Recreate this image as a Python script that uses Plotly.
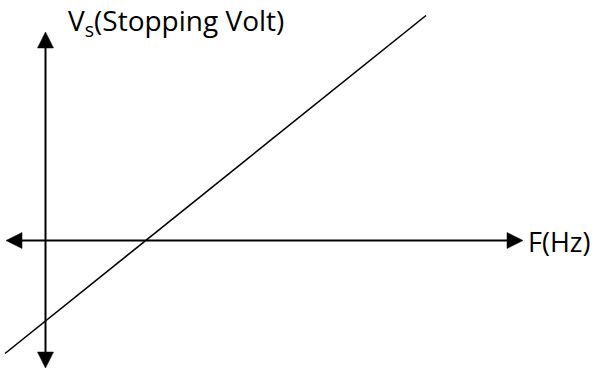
import plotly.graph_objects as go

# Conceptual data (arbitrary units): stopping voltage vs frequency
freq = [-4.05, 38.05]          # F (Hz), line extent
vs = [-11.3, 22.5]             # Vs (Stopping Volt)

x_axis_extent = [-3.95, 47.75]   # horizontal axis arrow tips
y_axis_extent = [-12.75, 20.85]  # vertical axis arrow tips

x_label = "F(Hz)"
y_label = "V<sub>s</sub>(Stopping Volt)"

HEAD_L = 1.6
HEAD_W = 0.8

fig = go.Figure()

# axes lines
fig.add_trace(go.Scatter(x=[x_axis_extent[0] + HEAD_L, x_axis_extent[1] - HEAD_L], y=[0, 0],
                         mode="lines", line=dict(color="black", width=2), hoverinfo="skip"))
fig.add_trace(go.Scatter(x=[0, 0], y=[y_axis_extent[0] + HEAD_L, y_axis_extent[1] - HEAD_L],
                         mode="lines", line=dict(color="black", width=2), hoverinfo="skip"))

def head(tipx, tipy, dx, dy):
    bx, by = tipx - dx * HEAD_L, tipy - dy * HEAD_L
    px, py = -dy * HEAD_W, dx * HEAD_W
    fig.add_trace(go.Scatter(x=[tipx, bx + px, bx - px, tipx], y=[tipy, by + py, by - py, tipy],
                             mode="lines", fill="toself", fillcolor="black",
                             line=dict(color="black", width=0.5), hoverinfo="skip"))

head(x_axis_extent[1], 0, 1, 0)
head(x_axis_extent[0], 0, -1, 0)
head(0, y_axis_extent[1], 0, 1)
head(0, y_axis_extent[0], 0, -1)

# the characteristic line
fig.add_trace(go.Scatter(x=freq, y=vs, mode="lines",
                         line=dict(color="black", width=1.6), hoverinfo="skip"))

fig.add_annotation(x=48.0, y=-0.1, text=x_label, showarrow=False, xanchor="left", yanchor="middle",
                   font=dict(family="Open Sans", size=27, color="black"))
fig.add_annotation(x=2.0, y=21.85, text=y_label, showarrow=False, xanchor="left", yanchor="middle",
                   font=dict(family="Open Sans", size=28, color="black"))

fig.update_layout(
    width=593, height=371,
    margin=dict(l=0, r=0, t=0, b=0),
    paper_bgcolor="white", plot_bgcolor="white",
    showlegend=False,
    xaxis=dict(range=[-4.55, 54.75], visible=False, fixedrange=True),
    yaxis=dict(range=[-13.05, 24.05], visible=False, fixedrange=True),
)

fig.write_html("out.html", config={"displayModeBar": False},
               post_script="document.body.style.margin='0';document.body.style.overflow='hidden';")
